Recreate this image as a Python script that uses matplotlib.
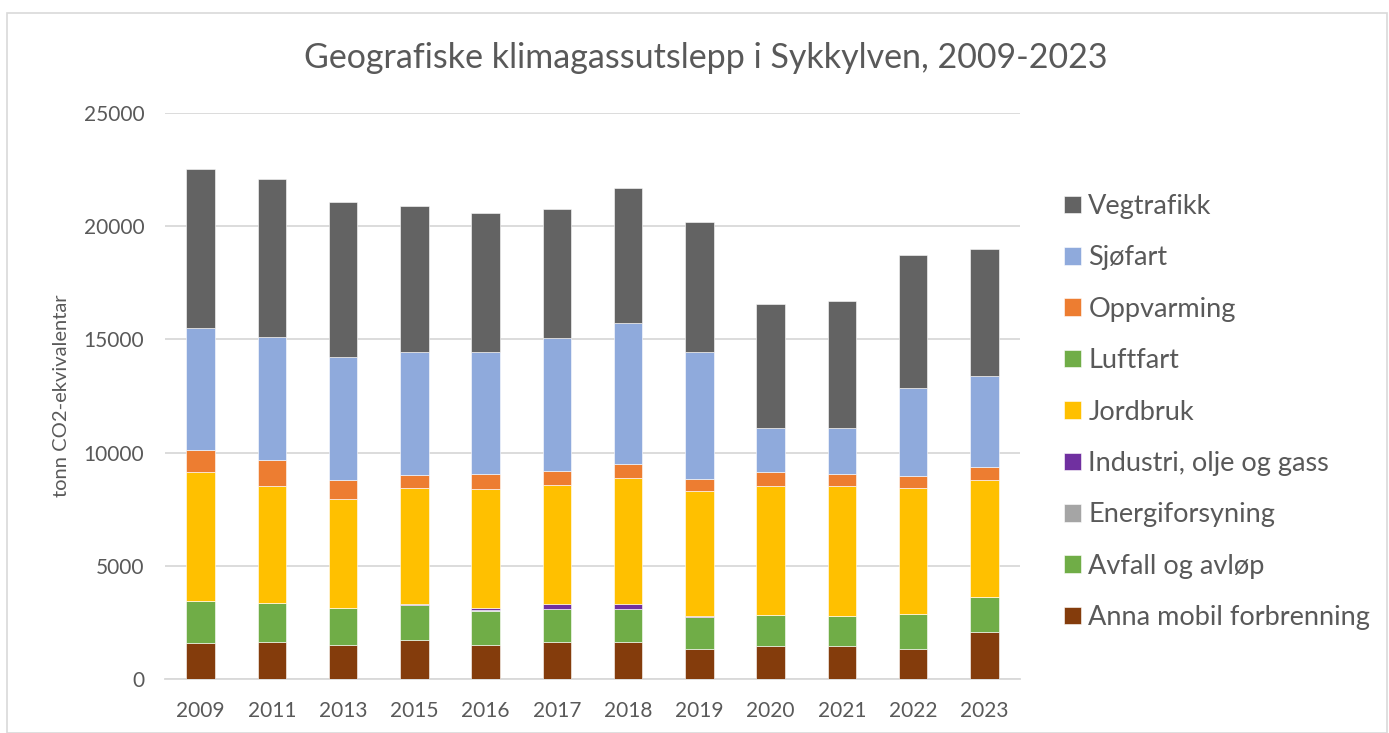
import matplotlib
matplotlib.use('Agg')
import matplotlib.pyplot as plt
import numpy as np
from matplotlib.patches import Rectangle

years = ['2009', '2011', '2013', '2015', '2016', '2017', '2018', '2019', '2020', '2021', '2022', '2023']

anna = [1604, 1648, 1516, 1723, 1516, 1620, 1648, 1340, 1473, 1473, 1340, 2062]
avfall = [1856, 1710, 1621, 1533, 1489, 1460, 1432, 1400, 1370, 1327, 1547, 1575]
energi = [0, 0, 0, 10, 40, 10, 10, 0, 0, 0, 0, 0]
industri = [0, 0, 0, 58, 88, 235, 235, 60, 0, 0, 0, 0]
jordbruk = [5687, 5171, 4817, 5096, 5273, 5245, 5537, 5522, 5671, 5729, 5553, 5143]
luftfart = [0, 0, 0, 0, 0, 0, 0, 0, 0, 0, 0, 0]
oppvarming = [972, 1162, 853, 591, 635, 601, 619, 529, 618, 530, 544, 601]
sjofart = [5405, 5409, 5422, 5418, 5418, 5877, 6248, 5612, 1946, 2019, 3889, 3995]
vegtrafikk = [6999, 6964, 6849, 6482, 6129, 5718, 5965, 5731, 5506, 5626, 5863, 5612]

series = [
    ('Anna mobil forbrenning', anna, '#843C0C'),
    ('Avfall og avløp', avfall, '#70AD47'),
    ('Energiforsyning', energi, '#A5A5A5'),
    ('Industri, olje og gass', industri, '#7030A0'),
    ('Jordbruk', jordbruk, '#FFC000'),
    ('Luftfart', luftfart, '#70AD47'),
    ('Oppvarming', oppvarming, '#ED7D31'),
    ('Sjøfart', sjofart, '#8FAADC'),
    ('Vegtrafikk', vegtrafikk, '#636363'),
]

plt.rcParams['font.family'] = ['Lato', 'DejaVu Sans']
txt = '#595959'

fig = plt.figure(figsize=(13.89, 7.33), dpi=100)
fig.patches.append(Rectangle((7 / 1389, 0), 1380 / 1389, 1 - 13 / 733, transform=fig.transFigure,
                             fill=False, edgecolor='#D9D9D9', linewidth=1.2))

ax = fig.add_axes([165 / 1389, 1 - 679 / 733, 855 / 1389, 566 / 733])
x = np.arange(len(years))
bottom = np.zeros(len(years))
handles = []
for name, vals, col in series:
    b = ax.bar(x, vals, 0.4, bottom=bottom, color=col, label=name,
               edgecolor='white', linewidth=0.4, zorder=3)
    handles.append(b)
    bottom += np.array(vals)

ax.set_xlim(-0.5, len(years) - 0.5)
ax.set_ylim(0, 25000)
ax.set_yticks(np.arange(0, 25001, 5000))
ax.set_xticks(x)
ax.set_xticklabels(years)
ax.grid(axis='y', color='#D9D9D9', linewidth=1.3, zorder=0)
ax.tick_params(axis='y', length=0, labelsize=15, colors=txt, pad=15)
ax.tick_params(axis='x', length=0, labelsize=15, colors=txt, pad=16)
for s in ['top', 'right', 'left']:
    ax.spines[s].set_visible(False)
ax.spines['bottom'].set_color('#D9D9D9')
ax.spines['bottom'].set_linewidth(1.3)
ax.set_ylabel('tonn CO2-ekvivalentar', fontsize=14.5, color=txt, labelpad=10)

fig.text(706 / 1389, 1 - 58 / 733, 'Geografiske klimagassutslepp i Sykkylven, 2009-2023',
         ha='center', va='center', fontsize=24.5, color=txt)

leg = fig.legend(handles[::-1], [s[0] for s in series][::-1], loc='center left',
                 bbox_to_anchor=(1064 / 1389, 1 - 412 / 733), frameon=False, fontsize=19.5,
                 handlelength=0.62, handleheight=0.62, handletextpad=0.28, labelspacing=0.975,
                 borderpad=0, borderaxespad=0)
for t in leg.get_texts():
    t.set_color(txt)

fig.savefig('out.png', dpi=100)
